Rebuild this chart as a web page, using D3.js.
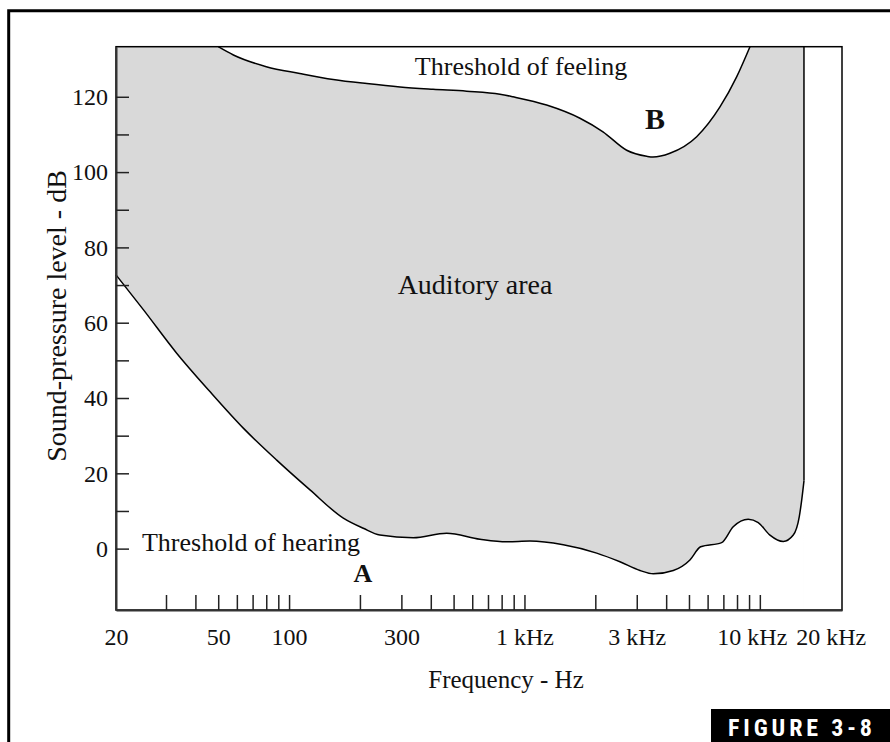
<!DOCTYPE html>
<html lang="en">
    <head>
        <meta charset="utf-8">
        <title>Auditory area</title>
        <script type="text/javascript" src="https://d3js.org/d3.v7.min.js"></script>
        <style type="text/css">
            body { margin: 0; background: #fff; }
            text { font-family: "Liberation Serif", "Times New Roman", serif; fill: #111; }
        </style>
    </head>
    <body>
        <div id="chart"></div>
        <script type="text/javascript">
            // threshold of feeling (upper curve)
            const feelFreq = [50, 58, 80, 111, 154, 214, 296, 409, 568, 787, 894, 1242, 1721, 2156, 2718, 3304, 3515, 4150, 5391, 6770, 7970, 9080];
            const feelDb = [133.3, 131.1, 128.0, 126.2, 124.6, 123.5, 122.6, 122.0, 121.5, 120.7, 120.0, 117.8, 114.3, 110.7, 105.8, 104.2, 104.0, 105.0, 109.4, 117.3, 125.3, 133.3];

            // threshold of hearing (lower curve)
            const hearFreq = [20, 25, 33.3, 46.1, 63.9, 88.6, 122.7, 170, 206.7, 243, 337, 467, 647, 840, 1055, 1462, 2027, 2545, 3095, 3526, 4288, 5047, 5604, 6882, 7709, 8929, 9847, 11040, 12580, 13870, 14710, 15060, 15400];
            const hearDb = [72.7, 63.4, 51.9, 41.7, 32.0, 23.5, 15.6, 8.1, 5.4, 3.6, 2.9, 4.1, 2.5, 1.8, 2.0, 1.0, -1.2, -3.5, -5.8, -6.7, -5.8, -3.0, 0.5, 1.6, 5.8, 7.8, 6.9, 3.6, 1.9, 3.6, 8.5, 12.9, 18];

            const upperLimit = 15400; // right edge of the auditory area
            const xMinorTicks = [30, 40, 50, 60, 70, 80, 90, 100, 200, 300, 400, 500, 600, 700, 800, 900, 1000, 2000, 3000, 4000, 5000, 6000, 7000, 8000, 9000, 10000];
            const xLabelValues = [20, 50, 100, 300, 1000, 3000, 10000, 20000];
            const xLabelText = ["20", "50", "100", "300", "1 kHz", "3 kHz", "10 kHz", "20 kHz"];
            const yTicks = [0, 10, 20, 30, 40, 50, 60, 70, 80, 90, 100, 110, 120];
            const yLabelValues = [0, 20, 40, 60, 80, 100, 120];

            const W = 890, H = 742;
            const plot = {left: 116, right: 842, top: 46.7, bottom: 610};
            const yMin = -16.3, yMax = 133.3;
            const serif = "'Liberation Serif', 'Times New Roman', serif";

            // log axis, the hand drawn figure squeezes 20-30 Hz a bit
            const x = d3.scaleLog()
                .domain([20, 30, 22340])
                .range([plot.left, 166, plot.right]);
            const y = d3.scaleLinear()
                .domain([yMin, yMax])
                .range([plot.bottom, plot.top]);

            const svg = d3.select("#chart")
                .append("svg")
                .attr("width", W)
                .attr("height", H);

            // outer page frame
            svg.append("path")
                .attr("d", `M8.7,${H} L8.7,10.7 L${W},10.7`)
                .attr("fill", "none")
                .attr("stroke", "#000")
                .attr("stroke-width", 3);

            // auditory area: grey block, then white outside the two thresholds
            svg.append("rect")
                .attr("x", x(20))
                .attr("y", y(yMax))
                .attr("width", x(upperLimit) - x(20))
                .attr("height", y(yMin) - y(yMax))
                .attr("fill", "#d9d9d9");

            const feel = feelFreq.map((f, i) => [f, feelDb[i]]);
            const hear = hearFreq.map((f, i) => [f, hearDb[i]]);

            const topArea = d3.area()
                .x(d => x(d[0]))
                .y0(y(yMax))
                .y1(d => y(d[1]))
                .curve(d3.curveMonotoneX);
            const bottomArea = d3.area()
                .x(d => x(d[0]))
                .y0(y(yMin))
                .y1(d => y(d[1]))
                .curve(d3.curveMonotoneX);
            const curve = d3.line()
                .x(d => x(d[0]))
                .y(d => y(d[1]))
                .curve(d3.curveMonotoneX);

            svg.append("path").attr("d", topArea(feel)).attr("fill", "#fff");
            svg.append("path").attr("d", bottomArea(hear)).attr("fill", "#fff");

            svg.append("path").attr("d", curve(feel))
                .attr("fill", "none").attr("stroke", "#000").attr("stroke-width", 1.5);
            svg.append("path").attr("d", curve(hear))
                .attr("fill", "none").attr("stroke", "#000").attr("stroke-width", 1.5);
            svg.append("path")
                .attr("d", d3.line()([[x(upperLimit), y(hearDb[hearDb.length - 1])], [x(upperLimit), y(yMax)]]))
                .attr("stroke", "#000").attr("stroke-width", 1.5);

            // plot frame (top and right)
            svg.append("rect")
                .attr("x", plot.left)
                .attr("y", plot.top)
                .attr("width", plot.right - plot.left)
                .attr("height", plot.bottom - plot.top)
                .attr("fill", "none")
                .attr("stroke", "#000")
                .attr("stroke-width", 1.5);

            // x axis: minor ticks inside, labels below
            const xTickAxis = d3.axisBottom(x)
                .tickValues(xMinorTicks)
                .tickFormat("")
                .tickSizeInner(-15)
                .tickSizeOuter(0);
            const gxt = svg.append("g")
                .attr("transform", `translate(0,${plot.bottom})`)
                .call(xTickAxis);

            const xLabelAxis = d3.axisBottom(x)
                .tickValues(xLabelValues)
                .tickFormat((d, i) => xLabelText[i])
                .tickSize(0)
                .tickPadding(18);
            const gxl = svg.append("g")
                .attr("transform", `translate(0,${plot.bottom})`)
                .call(xLabelAxis);
            gxl.select(".domain").remove();
            gxl.selectAll("text")
                .attr("dx", d => d === 10000 ? -8 : 0);

            const yAxis = d3.axisLeft(y)
                .tickValues(yTicks)
                .tickFormat(d => yLabelValues.includes(d) ? d : "")
                .tickSizeInner(-13)
                .tickSizeOuter(0)
                .tickPadding(8);
            const gy = svg.append("g")
                .attr("transform", `translate(${plot.left},0)`)
                .call(yAxis);

            [gxt, gxl, gy].forEach(g => {
                g.attr("font-family", serif).attr("font-size", 24);
                g.selectAll("text").style("font-family", serif).style("font-size", "24px").attr("fill", "#111");
                g.select(".domain").attr("stroke", "#333").attr("stroke-width", 2);
                g.selectAll(".tick line").attr("stroke", "#222").attr("stroke-width", 1.5);
            });

            // axis titles
            svg.append("text")
                .attr("x", 506)
                .attr("y", 688)
                .attr("text-anchor", "middle")
                .style("font-family", serif)
                .style("font-size", "25px")
                .text("Frequency - Hz");
            svg.append("text")
                .attr("transform", "translate(66,316) rotate(-90)")
                .attr("text-anchor", "middle")
                .style("font-family", serif)
                .style("font-size", "28px")
                .text("Sound-pressure level - dB");

            // annotations
            svg.append("text")
                .attr("x", 521).attr("y", 75)
                .attr("text-anchor", "middle")
                .style("font-family", serif)
                .style("font-size", "26px")
                .text("Threshold of feeling");
            svg.append("text")
                .attr("x", 251).attr("y", 551)
                .attr("text-anchor", "middle")
                .style("font-family", serif)
                .style("font-size", "26px")
                .text("Threshold of hearing");
            svg.append("text")
                .attr("x", 475).attr("y", 294)
                .attr("text-anchor", "middle")
                .style("font-family", serif)
                .style("font-size", "28px")
                .text("Auditory area");
            svg.append("text")
                .attr("x", 655).attr("y", 129)
                .attr("text-anchor", "middle")
                .style("font-family", serif)
                .style("font-size", "30px")
                .style("font-weight", "bold")
                .text("B");
            svg.append("text")
                .attr("x", 363).attr("y", 582)
                .attr("text-anchor", "middle")
                .style("font-family", serif)
                .style("font-size", "26px")
                .style("font-weight", "bold")
                .text("A");

            // figure tag
            svg.append("rect")
                .attr("x", 711).attr("y", 709)
                .attr("width", W - 711).attr("height", H - 709)
                .attr("fill", "#000");
            svg.append("text")
                .attr("x", 728).attr("y", 736)
                .attr("textLength", 144)
                .attr("lengthAdjust", "spacing")
                .style("font-family", "'Roboto Condensed', 'Liberation Sans', sans-serif")
                .style("font-weight", "bold")
                .style("font-size", "24px")
                .style("fill", "#fff")
                .text("FIGURE 3-8");
        </script>
    </body>
</html>
